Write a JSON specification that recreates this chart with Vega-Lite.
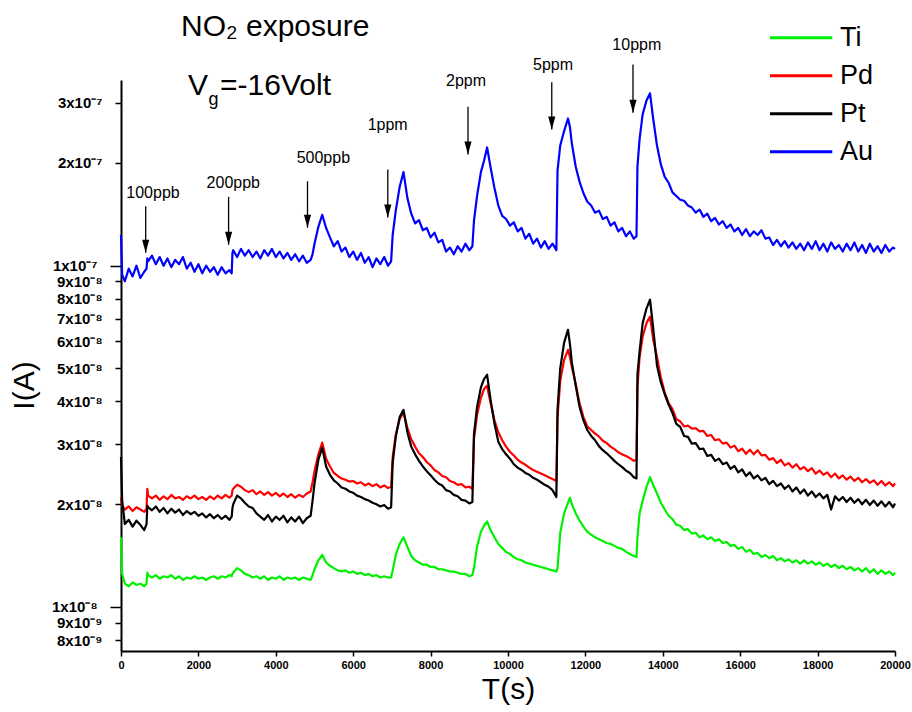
{
"$schema": "https://vega.github.io/schema/vega-lite/v6.json",
"width": 774, "height": 571,
"autosize": {"type": "none"},
"padding": {"left": 121, "top": 80, "right": 17, "bottom": 61},
"background": "white",
"config": {"view": {"stroke": null}, "font": "Liberation Sans", "axis": {"grid": false, "domainColor": "black", "tickColor": "black", "labelColor": "black", "titleColor": "black"}},
"datasets": {
"currents": [
{"t":0,"Ti":1.6e-8,"Pd":2.1e-8,"Pt":2.75e-8,"Au":1.23e-7},
{"t":30,"Ti":1.25e-8,"Pd":1.98e-8,"Pt":2.05e-8,"Au":9.4e-8},
{"t":100,"Ti":1.17e-8,"Pd":1.93e-8,"Pt":1.75e-8,"Au":9.0e-8},
{"t":200,"Ti":1.15e-8,"Pd":1.97e-8,"Pt":1.8e-8,"Au":9.8e-8},
{"t":300,"Ti":1.18e-8,"Pd":1.91e-8,"Pt":1.72e-8,"Au":9.3e-8},
{"t":400,"Ti":1.16e-8,"Pd":1.96e-8,"Pt":1.79e-8,"Au":1.0e-7},
{"t":500,"Ti":1.17e-8,"Pd":1.93e-8,"Pt":1.74e-8,"Au":9.2e-8},
{"t":600,"Ti":1.15e-8,"Pd":1.9e-8,"Pt":1.68e-8,"Au":9.6e-8},
{"t":660,"Ti":1.17e-8,"Pd":1.94e-8,"Pt":1.75e-8,"Au":9.8e-8},
{"t":680,"Ti":1.26e-8,"Pd":2.22e-8,"Pt":1.98e-8,"Au":1.05e-7},
{"t":700,"Ti":1.24e-8,"Pd":2.12e-8,"Pt":1.96e-8,"Au":1.03e-7},
{"t":800,"Ti":1.22e-8,"Pd":2.08e-8,"Pt":1.92e-8,"Au":1.07e-7},
{"t":900,"Ti":1.24e-8,"Pd":2.12e-8,"Pt":1.97e-8,"Au":1.01e-7},
{"t":1000,"Ti":1.21e-8,"Pd":2.06e-8,"Pt":1.9e-8,"Au":1.06e-7},
{"t":1100,"Ti":1.23e-8,"Pd":2.11e-8,"Pt":1.95e-8,"Au":1.0e-7},
{"t":1200,"Ti":1.22e-8,"Pd":2.07e-8,"Pt":1.88e-8,"Au":1.05e-7},
{"t":1300,"Ti":1.24e-8,"Pd":2.13e-8,"Pt":1.94e-8,"Au":9.9e-8},
{"t":1400,"Ti":1.21e-8,"Pd":2.08e-8,"Pt":1.89e-8,"Au":1.04e-7},
{"t":1500,"Ti":1.23e-8,"Pd":2.1e-8,"Pt":1.93e-8,"Au":1.01e-7},
{"t":1600,"Ti":1.2e-8,"Pd":2.06e-8,"Pt":1.86e-8,"Au":1.06e-7},
{"t":1700,"Ti":1.22e-8,"Pd":2.11e-8,"Pt":1.91e-8,"Au":9.8e-8},
{"t":1800,"Ti":1.21e-8,"Pd":2.08e-8,"Pt":1.87e-8,"Au":1.02e-7},
{"t":1900,"Ti":1.23e-8,"Pd":2.12e-8,"Pt":1.9e-8,"Au":9.6e-8},
{"t":2000,"Ti":1.21e-8,"Pd":2.07e-8,"Pt":1.85e-8,"Au":1.01e-7},
{"t":2100,"Ti":1.22e-8,"Pd":2.1e-8,"Pt":1.88e-8,"Au":9.5e-8},
{"t":2200,"Ti":1.2e-8,"Pd":2.06e-8,"Pt":1.83e-8,"Au":1.0e-7},
{"t":2300,"Ti":1.22e-8,"Pd":2.11e-8,"Pt":1.87e-8,"Au":9.6e-8},
{"t":2400,"Ti":1.23e-8,"Pd":2.07e-8,"Pt":1.82e-8,"Au":9.9e-8},
{"t":2500,"Ti":1.21e-8,"Pd":2.12e-8,"Pt":1.86e-8,"Au":9.4e-8},
{"t":2600,"Ti":1.23e-8,"Pd":2.08e-8,"Pt":1.81e-8,"Au":9.9e-8},
{"t":2700,"Ti":1.22e-8,"Pd":2.13e-8,"Pt":1.85e-8,"Au":9.5e-8},
{"t":2800,"Ti":1.24e-8,"Pd":2.09e-8,"Pt":1.8e-8,"Au":9.7e-8},
{"t":2860,"Ti":1.23e-8,"Pd":2.12e-8,"Pt":1.84e-8,"Au":9.5e-8},
{"t":2880,"Ti":1.25e-8,"Pd":2.2e-8,"Pt":1.95e-8,"Au":1.09e-7},
{"t":2900,"Ti":1.26e-8,"Pd":2.22e-8,"Pt":2.0e-8,"Au":1.11e-7},
{"t":3000,"Ti":1.3e-8,"Pd":2.28e-8,"Pt":2.12e-8,"Au":1.06e-7},
{"t":3100,"Ti":1.28e-8,"Pd":2.25e-8,"Pt":2.08e-8,"Au":1.12e-7},
{"t":3200,"Ti":1.25e-8,"Pd":2.2e-8,"Pt":2.02e-8,"Au":1.07e-7},
{"t":3300,"Ti":1.24e-8,"Pd":2.17e-8,"Pt":1.97e-8,"Au":1.11e-7},
{"t":3400,"Ti":1.22e-8,"Pd":2.2e-8,"Pt":1.95e-8,"Au":1.06e-7},
{"t":3500,"Ti":1.23e-8,"Pd":2.14e-8,"Pt":1.88e-8,"Au":1.1e-7},
{"t":3600,"Ti":1.21e-8,"Pd":2.18e-8,"Pt":1.84e-8,"Au":1.05e-7},
{"t":3700,"Ti":1.23e-8,"Pd":2.13e-8,"Pt":1.8e-8,"Au":1.11e-7},
{"t":3800,"Ti":1.2e-8,"Pd":2.17e-8,"Pt":1.86e-8,"Au":1.07e-7},
{"t":3900,"Ti":1.22e-8,"Pd":2.12e-8,"Pt":1.78e-8,"Au":1.12e-7},
{"t":4000,"Ti":1.21e-8,"Pd":2.16e-8,"Pt":1.84e-8,"Au":1.06e-7},
{"t":4100,"Ti":1.23e-8,"Pd":2.11e-8,"Pt":1.8e-8,"Au":1.1e-7},
{"t":4200,"Ti":1.2e-8,"Pd":2.15e-8,"Pt":1.85e-8,"Au":1.05e-7},
{"t":4300,"Ti":1.22e-8,"Pd":2.1e-8,"Pt":1.77e-8,"Au":1.09e-7},
{"t":4400,"Ti":1.21e-8,"Pd":2.14e-8,"Pt":1.83e-8,"Au":1.04e-7},
{"t":4500,"Ti":1.22e-8,"Pd":2.09e-8,"Pt":1.78e-8,"Au":1.08e-7},
{"t":4600,"Ti":1.2e-8,"Pd":2.13e-8,"Pt":1.84e-8,"Au":1.03e-7},
{"t":4700,"Ti":1.22e-8,"Pd":2.1e-8,"Pt":1.76e-8,"Au":1.07e-7},
{"t":4800,"Ti":1.21e-8,"Pd":2.15e-8,"Pt":1.82e-8,"Au":1.02e-7},
{"t":4900,"Ti":1.2e-8,"Pd":2.18e-8,"Pt":1.85e-8,"Au":1.04e-7},
{"t":4950,"Ti":1.24e-8,"Pd":2.32e-8,"Pt":2.05e-8,"Au":1.08e-7},
{"t":5000,"Ti":1.29e-8,"Pd":2.5e-8,"Pt":2.3e-8,"Au":1.16e-7},
{"t":5100,"Ti":1.37e-8,"Pd":2.8e-8,"Pt":2.7e-8,"Au":1.3e-7},
{"t":5200,"Ti":1.42e-8,"Pd":3.03e-8,"Pt":2.93e-8,"Au":1.41e-7},
{"t":5300,"Ti":1.35e-8,"Pd":2.72e-8,"Pt":2.58e-8,"Au":1.29e-7},
{"t":5400,"Ti":1.32e-8,"Pd":2.58e-8,"Pt":2.44e-8,"Au":1.21e-7},
{"t":5500,"Ti":1.3e-8,"Pd":2.47e-8,"Pt":2.35e-8,"Au":1.14e-7},
{"t":5600,"Ti":1.28e-8,"Pd":2.42e-8,"Pt":2.3e-8,"Au":1.18e-7},
{"t":5700,"Ti":1.27e-8,"Pd":2.38e-8,"Pt":2.24e-8,"Au":1.1e-7},
{"t":5800,"Ti":1.28e-8,"Pd":2.36e-8,"Pt":2.22e-8,"Au":1.13e-7},
{"t":5900,"Ti":1.26e-8,"Pd":2.33e-8,"Pt":2.18e-8,"Au":1.06e-7},
{"t":6000,"Ti":1.27e-8,"Pd":2.34e-8,"Pt":2.16e-8,"Au":1.1e-7},
{"t":6100,"Ti":1.25e-8,"Pd":2.3e-8,"Pt":2.12e-8,"Au":1.04e-7},
{"t":6200,"Ti":1.26e-8,"Pd":2.32e-8,"Pt":2.1e-8,"Au":1.09e-7},
{"t":6300,"Ti":1.24e-8,"Pd":2.27e-8,"Pt":2.07e-8,"Au":1.02e-7},
{"t":6400,"Ti":1.25e-8,"Pd":2.3e-8,"Pt":2.05e-8,"Au":1.06e-7},
{"t":6500,"Ti":1.23e-8,"Pd":2.26e-8,"Pt":2.02e-8,"Au":9.9e-8},
{"t":6600,"Ti":1.24e-8,"Pd":2.29e-8,"Pt":2.0e-8,"Au":1.05e-7},
{"t":6700,"Ti":1.22e-8,"Pd":2.24e-8,"Pt":1.97e-8,"Au":1.01e-7},
{"t":6800,"Ti":1.23e-8,"Pd":2.27e-8,"Pt":1.99e-8,"Au":1.06e-7},
{"t":6900,"Ti":1.22e-8,"Pd":2.23e-8,"Pt":1.94e-8,"Au":1.0e-7},
{"t":6980,"Ti":1.22e-8,"Pd":2.25e-8,"Pt":1.96e-8,"Au":1.03e-7},
{"t":7020,"Ti":1.28e-8,"Pd":2.75e-8,"Pt":2.65e-8,"Au":1.23e-7},
{"t":7100,"Ti":1.42e-8,"Pd":3.2e-8,"Pt":3.15e-8,"Au":1.45e-7},
{"t":7200,"Ti":1.53e-8,"Pd":3.55e-8,"Pt":3.6e-8,"Au":1.7e-7},
{"t":7300,"Ti":1.6e-8,"Pd":3.72e-8,"Pt":3.78e-8,"Au":1.88e-7},
{"t":7400,"Ti":1.5e-8,"Pd":3.35e-8,"Pt":3.25e-8,"Au":1.58e-7},
{"t":7500,"Ti":1.41e-8,"Pd":3.1e-8,"Pt":2.95e-8,"Au":1.42e-7},
{"t":7600,"Ti":1.37e-8,"Pd":2.95e-8,"Pt":2.8e-8,"Au":1.33e-7},
{"t":7700,"Ti":1.35e-8,"Pd":2.82e-8,"Pt":2.68e-8,"Au":1.36e-7},
{"t":7800,"Ti":1.33e-8,"Pd":2.75e-8,"Pt":2.58e-8,"Au":1.27e-7},
{"t":7900,"Ti":1.33e-8,"Pd":2.66e-8,"Pt":2.5e-8,"Au":1.29e-7},
{"t":8000,"Ti":1.31e-8,"Pd":2.6e-8,"Pt":2.43e-8,"Au":1.21e-7},
{"t":8100,"Ti":1.31e-8,"Pd":2.52e-8,"Pt":2.36e-8,"Au":1.25e-7},
{"t":8200,"Ti":1.29e-8,"Pd":2.48e-8,"Pt":2.3e-8,"Au":1.17e-7},
{"t":8300,"Ti":1.29e-8,"Pd":2.42e-8,"Pt":2.27e-8,"Au":1.19e-7},
{"t":8400,"Ti":1.28e-8,"Pd":2.4e-8,"Pt":2.2e-8,"Au":1.1e-7},
{"t":8500,"Ti":1.27e-8,"Pd":2.34e-8,"Pt":2.18e-8,"Au":1.13e-7},
{"t":8600,"Ti":1.27e-8,"Pd":2.32e-8,"Pt":2.13e-8,"Au":1.08e-7},
{"t":8700,"Ti":1.26e-8,"Pd":2.28e-8,"Pt":2.11e-8,"Au":1.14e-7},
{"t":8800,"Ti":1.25e-8,"Pd":2.29e-8,"Pt":2.06e-8,"Au":1.1e-7},
{"t":8900,"Ti":1.25e-8,"Pd":2.24e-8,"Pt":2.05e-8,"Au":1.16e-7},
{"t":9000,"Ti":1.23e-8,"Pd":2.25e-8,"Pt":2.01e-8,"Au":1.11e-7},
{"t":9080,"Ti":1.24e-8,"Pd":2.22e-8,"Pt":2.03e-8,"Au":1.14e-7},
{"t":9120,"Ti":1.3e-8,"Pd":3.1e-8,"Pt":3.2e-8,"Au":1.35e-7},
{"t":9200,"Ti":1.5e-8,"Pd":3.65e-8,"Pt":3.85e-8,"Au":1.6e-7},
{"t":9300,"Ti":1.66e-8,"Pd":4.1e-8,"Pt":4.4e-8,"Au":1.88e-7},
{"t":9380,"Ti":1.73e-8,"Pd":4.35e-8,"Pt":4.65e-8,"Au":2.03e-7},
{"t":9460,"Ti":1.78e-8,"Pd":4.45e-8,"Pt":4.79e-8,"Au":2.22e-7},
{"t":9550,"Ti":1.68e-8,"Pd":3.95e-8,"Pt":4.05e-8,"Au":1.94e-7},
{"t":9650,"Ti":1.6e-8,"Pd":3.52e-8,"Pt":3.45e-8,"Au":1.69e-7},
{"t":9750,"Ti":1.53e-8,"Pd":3.25e-8,"Pt":3.05e-8,"Au":1.5e-7},
{"t":9850,"Ti":1.49e-8,"Pd":3.08e-8,"Pt":2.9e-8,"Au":1.4e-7},
{"t":9950,"Ti":1.45e-8,"Pd":2.95e-8,"Pt":2.8e-8,"Au":1.37e-7},
{"t":10050,"Ti":1.43e-8,"Pd":2.85e-8,"Pt":2.72e-8,"Au":1.31e-7},
{"t":10150,"Ti":1.4e-8,"Pd":2.78e-8,"Pt":2.62e-8,"Au":1.34e-7},
{"t":10250,"Ti":1.38e-8,"Pd":2.7e-8,"Pt":2.56e-8,"Au":1.26e-7},
{"t":10350,"Ti":1.37e-8,"Pd":2.65e-8,"Pt":2.52e-8,"Au":1.29e-7},
{"t":10450,"Ti":1.35e-8,"Pd":2.61e-8,"Pt":2.47e-8,"Au":1.2e-7},
{"t":10550,"Ti":1.34e-8,"Pd":2.56e-8,"Pt":2.44e-8,"Au":1.24e-7},
{"t":10650,"Ti":1.33e-8,"Pd":2.52e-8,"Pt":2.39e-8,"Au":1.16e-7},
{"t":10750,"Ti":1.32e-8,"Pd":2.49e-8,"Pt":2.36e-8,"Au":1.2e-7},
{"t":10850,"Ti":1.31e-8,"Pd":2.46e-8,"Pt":2.32e-8,"Au":1.13e-7},
{"t":10950,"Ti":1.3e-8,"Pd":2.43e-8,"Pt":2.28e-8,"Au":1.18e-7},
{"t":11050,"Ti":1.29e-8,"Pd":2.4e-8,"Pt":2.25e-8,"Au":1.12e-7},
{"t":11150,"Ti":1.28e-8,"Pd":2.37e-8,"Pt":2.2e-8,"Au":1.16e-7},
{"t":11250,"Ti":1.27e-8,"Pd":2.34e-8,"Pt":2.1e-8,"Au":1.11e-7},
{"t":11280,"Ti":1.3e-8,"Pd":3.6e-8,"Pt":3.8e-8,"Au":1.9e-7},
{"t":11350,"Ti":1.65e-8,"Pd":4.6e-8,"Pt":5.0e-8,"Au":2.25e-7},
{"t":11450,"Ti":1.88e-8,"Pd":5.3e-8,"Pt":5.95e-8,"Au":2.48e-7},
{"t":11550,"Ti":2.02e-8,"Pd":5.67e-8,"Pt":6.49e-8,"Au":2.7e-7},
{"t":11600,"Ti":2.09e-8,"Pd":5.4e-8,"Pt":5.9e-8,"Au":2.55e-7},
{"t":11650,"Ti":2.0e-8,"Pd":5.05e-8,"Pt":5.2e-8,"Au":2.28e-7},
{"t":11750,"Ti":1.88e-8,"Pd":4.5e-8,"Pt":4.45e-8,"Au":1.95e-7},
{"t":11850,"Ti":1.79e-8,"Pd":3.95e-8,"Pt":3.85e-8,"Au":1.76e-7},
{"t":11950,"Ti":1.72e-8,"Pd":3.6e-8,"Pt":3.52e-8,"Au":1.63e-7},
{"t":12050,"Ti":1.66e-8,"Pd":3.38e-8,"Pt":3.3e-8,"Au":1.54e-7},
{"t":12150,"Ti":1.63e-8,"Pd":3.3e-8,"Pt":3.17e-8,"Au":1.5e-7},
{"t":12250,"Ti":1.6e-8,"Pd":3.22e-8,"Pt":3.08e-8,"Au":1.43e-7},
{"t":12350,"Ti":1.58e-8,"Pd":3.16e-8,"Pt":2.96e-8,"Au":1.45e-7},
{"t":12450,"Ti":1.56e-8,"Pd":3.07e-8,"Pt":2.88e-8,"Au":1.37e-7},
{"t":12550,"Ti":1.54e-8,"Pd":3.02e-8,"Pt":2.82e-8,"Au":1.39e-7},
{"t":12650,"Ti":1.53e-8,"Pd":2.95e-8,"Pt":2.75e-8,"Au":1.31e-7},
{"t":12750,"Ti":1.51e-8,"Pd":2.9e-8,"Pt":2.68e-8,"Au":1.34e-7},
{"t":12850,"Ti":1.49e-8,"Pd":2.84e-8,"Pt":2.62e-8,"Au":1.26e-7},
{"t":12950,"Ti":1.48e-8,"Pd":2.8e-8,"Pt":2.57e-8,"Au":1.29e-7},
{"t":13050,"Ti":1.45e-8,"Pd":2.77e-8,"Pt":2.51e-8,"Au":1.22e-7},
{"t":13150,"Ti":1.43e-8,"Pd":2.73e-8,"Pt":2.47e-8,"Au":1.26e-7},
{"t":13250,"Ti":1.41e-8,"Pd":2.68e-8,"Pt":2.4e-8,"Au":1.2e-7},
{"t":13320,"Ti":1.4e-8,"Pd":2.7e-8,"Pt":2.38e-8,"Au":1.22e-7},
{"t":13345,"Ti":1.6e-8,"Pd":4.4e-8,"Pt":4.8e-8,"Au":1.95e-7},
{"t":13400,"Ti":1.88e-8,"Pd":5.4e-8,"Pt":5.6e-8,"Au":2.35e-7},
{"t":13480,"Ti":2.05e-8,"Pd":6.2e-8,"Pt":6.8e-8,"Au":2.78e-7},
{"t":13580,"Ti":2.25e-8,"Pd":6.8e-8,"Pt":7.5e-8,"Au":3.05e-7},
{"t":13670,"Ti":2.4e-8,"Pd":7.09e-8,"Pt":7.95e-8,"Au":3.2e-7},
{"t":13750,"Ti":2.28e-8,"Pd":6.1e-8,"Pt":6.6e-8,"Au":2.7e-7},
{"t":13850,"Ti":2.15e-8,"Pd":5.4e-8,"Pt":5.1e-8,"Au":2.25e-7},
{"t":13950,"Ti":2.02e-8,"Pd":4.7e-8,"Pt":4.55e-8,"Au":1.98e-7},
{"t":14050,"Ti":1.93e-8,"Pd":4.25e-8,"Pt":4.2e-8,"Au":1.82e-7},
{"t":14150,"Ti":1.85e-8,"Pd":3.96e-8,"Pt":3.92e-8,"Au":1.75e-7},
{"t":14250,"Ti":1.81e-8,"Pd":3.8e-8,"Pt":3.7e-8,"Au":1.64e-7},
{"t":14350,"Ti":1.74e-8,"Pd":3.55e-8,"Pt":3.44e-8,"Au":1.6e-7},
{"t":14450,"Ti":1.73e-8,"Pd":3.5e-8,"Pt":3.37e-8,"Au":1.56e-7},
{"t":14550,"Ti":1.68e-8,"Pd":3.38e-8,"Pt":3.17e-8,"Au":1.55e-7},
{"t":14650,"Ti":1.69e-8,"Pd":3.4e-8,"Pt":3.15e-8,"Au":1.5e-7},
{"t":14750,"Ti":1.64e-8,"Pd":3.33e-8,"Pt":3.01e-8,"Au":1.48e-7},
{"t":14850,"Ti":1.65e-8,"Pd":3.34e-8,"Pt":3.02e-8,"Au":1.43e-7},
{"t":14950,"Ti":1.6e-8,"Pd":3.27e-8,"Pt":2.9e-8,"Au":1.46e-7},
{"t":15050,"Ti":1.62e-8,"Pd":3.28e-8,"Pt":2.91e-8,"Au":1.39e-7},
{"t":15150,"Ti":1.58e-8,"Pd":3.17e-8,"Pt":2.77e-8,"Au":1.42e-7},
{"t":15250,"Ti":1.6e-8,"Pd":3.19e-8,"Pt":2.79e-8,"Au":1.35e-7},
{"t":15350,"Ti":1.56e-8,"Pd":3.08e-8,"Pt":2.68e-8,"Au":1.38e-7},
{"t":15450,"Ti":1.58e-8,"Pd":3.1e-8,"Pt":2.72e-8,"Au":1.32e-7},
{"t":15550,"Ti":1.54e-8,"Pd":3.01e-8,"Pt":2.62e-8,"Au":1.35e-7},
{"t":15650,"Ti":1.55e-8,"Pd":3.03e-8,"Pt":2.65e-8,"Au":1.29e-7},
{"t":15750,"Ti":1.51e-8,"Pd":2.93e-8,"Pt":2.54e-8,"Au":1.32e-7},
{"t":15850,"Ti":1.52e-8,"Pd":2.97e-8,"Pt":2.59e-8,"Au":1.26e-7},
{"t":15950,"Ti":1.48e-8,"Pd":2.86e-8,"Pt":2.48e-8,"Au":1.29e-7},
{"t":16050,"Ti":1.5e-8,"Pd":2.91e-8,"Pt":2.53e-8,"Au":1.23e-7},
{"t":16150,"Ti":1.45e-8,"Pd":2.81e-8,"Pt":2.42e-8,"Au":1.28e-7},
{"t":16250,"Ti":1.47e-8,"Pd":2.89e-8,"Pt":2.48e-8,"Au":1.22e-7},
{"t":16350,"Ti":1.43e-8,"Pd":2.8e-8,"Pt":2.38e-8,"Au":1.26e-7},
{"t":16450,"Ti":1.44e-8,"Pd":2.88e-8,"Pt":2.43e-8,"Au":1.23e-7},
{"t":16550,"Ti":1.4e-8,"Pd":2.78e-8,"Pt":2.35e-8,"Au":1.27e-7},
{"t":16650,"Ti":1.42e-8,"Pd":2.79e-8,"Pt":2.39e-8,"Au":1.2e-7},
{"t":16750,"Ti":1.39e-8,"Pd":2.7e-8,"Pt":2.29e-8,"Au":1.21e-7},
{"t":16850,"Ti":1.41e-8,"Pd":2.73e-8,"Pt":2.34e-8,"Au":1.15e-7},
{"t":16950,"Ti":1.37e-8,"Pd":2.64e-8,"Pt":2.26e-8,"Au":1.19e-7},
{"t":17050,"Ti":1.39e-8,"Pd":2.7e-8,"Pt":2.3e-8,"Au":1.14e-7},
{"t":17150,"Ti":1.36e-8,"Pd":2.6e-8,"Pt":2.22e-8,"Au":1.18e-7},
{"t":17250,"Ti":1.38e-8,"Pd":2.64e-8,"Pt":2.27e-8,"Au":1.13e-7},
{"t":17350,"Ti":1.35e-8,"Pd":2.56e-8,"Pt":2.18e-8,"Au":1.17e-7},
{"t":17450,"Ti":1.37e-8,"Pd":2.62e-8,"Pt":2.24e-8,"Au":1.12e-7},
{"t":17550,"Ti":1.34e-8,"Pd":2.53e-8,"Pt":2.15e-8,"Au":1.16e-7},
{"t":17650,"Ti":1.37e-8,"Pd":2.57e-8,"Pt":2.21e-8,"Au":1.11e-7},
{"t":17750,"Ti":1.34e-8,"Pd":2.5e-8,"Pt":2.12e-8,"Au":1.17e-7},
{"t":17850,"Ti":1.36e-8,"Pd":2.55e-8,"Pt":2.18e-8,"Au":1.12e-7},
{"t":17950,"Ti":1.33e-8,"Pd":2.46e-8,"Pt":2.1e-8,"Au":1.18e-7},
{"t":18050,"Ti":1.35e-8,"Pd":2.51e-8,"Pt":2.15e-8,"Au":1.11e-7},
{"t":18150,"Ti":1.32e-8,"Pd":2.44e-8,"Pt":2.08e-8,"Au":1.16e-7},
{"t":18250,"Ti":1.34e-8,"Pd":2.48e-8,"Pt":2.13e-8,"Au":1.1e-7},
{"t":18350,"Ti":1.31e-8,"Pd":2.4e-8,"Pt":1.93e-8,"Au":1.17e-7},
{"t":18450,"Ti":1.33e-8,"Pd":2.46e-8,"Pt":2.11e-8,"Au":1.12e-7},
{"t":18550,"Ti":1.3e-8,"Pd":2.38e-8,"Pt":2.05e-8,"Au":1.15e-7},
{"t":18650,"Ti":1.32e-8,"Pd":2.43e-8,"Pt":2.1e-8,"Au":1.1e-7},
{"t":18750,"Ti":1.29e-8,"Pd":2.36e-8,"Pt":2.03e-8,"Au":1.16e-7},
{"t":18850,"Ti":1.31e-8,"Pd":2.41e-8,"Pt":2.09e-8,"Au":1.11e-7},
{"t":18950,"Ti":1.28e-8,"Pd":2.34e-8,"Pt":2.02e-8,"Au":1.17e-7},
{"t":19050,"Ti":1.3e-8,"Pd":2.39e-8,"Pt":2.07e-8,"Au":1.1e-7},
{"t":19150,"Ti":1.27e-8,"Pd":2.32e-8,"Pt":2.0e-8,"Au":1.15e-7},
{"t":19250,"Ti":1.3e-8,"Pd":2.37e-8,"Pt":2.06e-8,"Au":1.09e-7},
{"t":19350,"Ti":1.26e-8,"Pd":2.31e-8,"Pt":1.99e-8,"Au":1.16e-7},
{"t":19450,"Ti":1.29e-8,"Pd":2.35e-8,"Pt":2.05e-8,"Au":1.1e-7},
{"t":19550,"Ti":1.25e-8,"Pd":2.28e-8,"Pt":1.98e-8,"Au":1.14e-7},
{"t":19650,"Ti":1.28e-8,"Pd":2.34e-8,"Pt":2.04e-8,"Au":1.09e-7},
{"t":19750,"Ti":1.25e-8,"Pd":2.27e-8,"Pt":1.97e-8,"Au":1.15e-7},
{"t":19850,"Ti":1.27e-8,"Pd":2.32e-8,"Pt":2.03e-8,"Au":1.1e-7},
{"t":19950,"Ti":1.24e-8,"Pd":2.26e-8,"Pt":1.96e-8,"Au":1.13e-7},
{"t":20000,"Ti":1.26e-8,"Pd":2.3e-8,"Pt":2.01e-8,"Au":1.12e-7}
],
"doses": [
{"dose":"100ppb","t":638,"top":1.493e-7,"tip":1.092e-7,"label_t":827,"label_I":1.583e-7},
{"dose":"200ppb","t":2780,"top":1.591e-7,"tip":1.152e-7,"label_t":2902,"label_I":1.693e-7},
{"dose":"500ppb","t":4819,"top":1.767e-7,"tip":1.292e-7,"label_t":5228,"label_I":2.0e-7},
{"dose":"1ppm","t":6894,"top":1.912e-7,"tip":1.383e-7,"label_t":6891,"label_I":2.505e-7},
{"dose":"2ppm","t":8966,"top":2.92e-7,"tip":2.116e-7,"label_t":8915,"label_I":3.37e-7},
{"dose":"5ppm","t":11131,"top":3.45e-7,"tip":2.505e-7,"label_t":11163,"label_I":3.74e-7},
{"dose":"10ppm","t":13230,"top":3.886e-7,"tip":2.804e-7,"label_t":13328,"label_I":4.29e-7}
],
"notes_big": [
{"t":1550,"I":4.70e-7,"text":"NO₂ exposure"},
{"t":1731,"I":3.17e-7,"text":"V"},
{"t":2560,"I":3.17e-7,"text":"=-16Volt"}
],
"notes_sub": [
{"t":2260,"I":2.95e-7,"text":"g"}
]
},
"layer": [
{
"data": {"name": "currents"},
"transform": [{"fold": ["Ti", "Pd", "Pt", "Au"], "as": ["metal", "I"]}],
"mark": {"type": "line", "strokeWidth": 2.2, "strokeJoin": "round"},
"encoding": {
"x": {"field": "t", "type": "quantitative", "scale": {"domain": [0, 20000], "nice": false, "zero": false},
"axis": {"title": "T(s)", "titleFontSize": 30, "titleFontWeight": "normal", "titleBaseline": "alphabetic", "titleY": 47,
"values": [0,1000,2000,3000,4000,5000,6000,7000,8000,9000,10000,11000,12000,13000,14000,15000,16000,17000,18000,19000,20000],
"labelExpr": "datum.value % 2000 === 0 ? format(datum.value, 'd') : ''",
"labelFontSize": 11, "labelFontWeight": "bold", "labelPadding": 3, "labelFlush": false, "labelOverlap": false,
"domainWidth": 2, "tickWidth": 1.5,
"tickSize": {"condition": {"test": "datum.value % 2000 === 0", "value": 5}, "value": 3}}},
"y": {"field": "I", "type": "quantitative", "scale": {"type": "log", "domain": [7.43e-9, 3.5e-7], "nice": false},
"axis": {"title": "I(A)", "titleFontSize": 30, "titleFontWeight": "normal", "titleBaseline": "alphabetic", "titleX": -88, "titleY": 305, "titleAngle": -90,
"values": [8e-9, 9e-9, 1e-8, 2e-8, 3e-8, 4e-8, 5e-8, 6e-8, 7e-8, 8e-8, 9e-8, 1e-7, 2e-7, 3e-7],
"labelExpr": "format(datum.value / pow(10, floor(log(datum.value) / LN10 + 1e-6)), '.0f') + 'x10' + (floor(log(datum.value) / LN10 + 1e-6) == -7 ? '⁻⁷' : floor(log(datum.value) / LN10 + 1e-6) == -8 ? '⁻⁸' : '⁻⁹')",
"labelFontSize": 15, "labelFontWeight": "bold", "labelPadding": 13, "labelOverlap": false, "labelFlush": false,
"domainWidth": 2, "tickWidth": 1.5,
"tickSize": {"condition": {"test": "datum.value == 1e-7 || datum.value == 1e-8", "value": 11}, "value": 6}}},
"color": {"field": "metal", "type": "nominal",
"scale": {"domain": ["Ti", "Pd", "Pt", "Au"], "range": ["#00f000", "#ff0000", "#000000", "#0000ff"]},
"legend": {"orient": "none", "legendX": 649, "legendY": -61, "title": null, "symbolType": "M-1.3,0H1.3", "symbolSize": 2782, "symbolStrokeWidth": 3,
"labelFontSize": 27, "labelFont": "Liberation Sans", "labelOffset": 14, "rowPadding": 0, "clipHeight": 37.3, "padding": 0, "labelColor": "black"}}
}
},
{
"data": {"name": "doses"},
"mark": {"type": "rule", "color": "black", "strokeWidth": 1.3},
"encoding": {"x": {"field": "t", "type": "quantitative"}, "y": {"field": "top", "type": "quantitative"}, "y2": {"field": "tip"}}
},
{
"data": {"name": "doses"},
"mark": {"type": "point", "shape": "M-0.55,-2L0.55,-2L0,0Z", "size": 169, "filled": true, "color": "black", "opacity": 1},
"encoding": {"x": {"field": "t", "type": "quantitative"}, "y": {"field": "tip", "type": "quantitative"}}
},
{
"data": {"name": "doses"},
"mark": {"type": "text", "fontSize": 16, "font": "Liberation Sans", "align": "center", "baseline": "alphabetic", "color": "black"},
"encoding": {"x": {"field": "label_t", "type": "quantitative"}, "y": {"field": "label_I", "type": "quantitative"}, "text": {"field": "dose"}}
},
{
"data": {"name": "notes_big"},
"mark": {"type": "text", "fontSize": 30, "font": "Liberation Sans", "align": "left", "baseline": "alphabetic", "color": "black"},
"encoding": {"x": {"field": "t", "type": "quantitative"}, "y": {"field": "I", "type": "quantitative"}, "text": {"field": "text"}}
},
{
"data": {"name": "notes_sub"},
"mark": {"type": "text", "fontSize": 18, "font": "Liberation Sans", "align": "left", "baseline": "alphabetic", "color": "black"},
"encoding": {"x": {"field": "t", "type": "quantitative"}, "y": {"field": "I", "type": "quantitative"}, "text": {"field": "text"}}
}
]
}
